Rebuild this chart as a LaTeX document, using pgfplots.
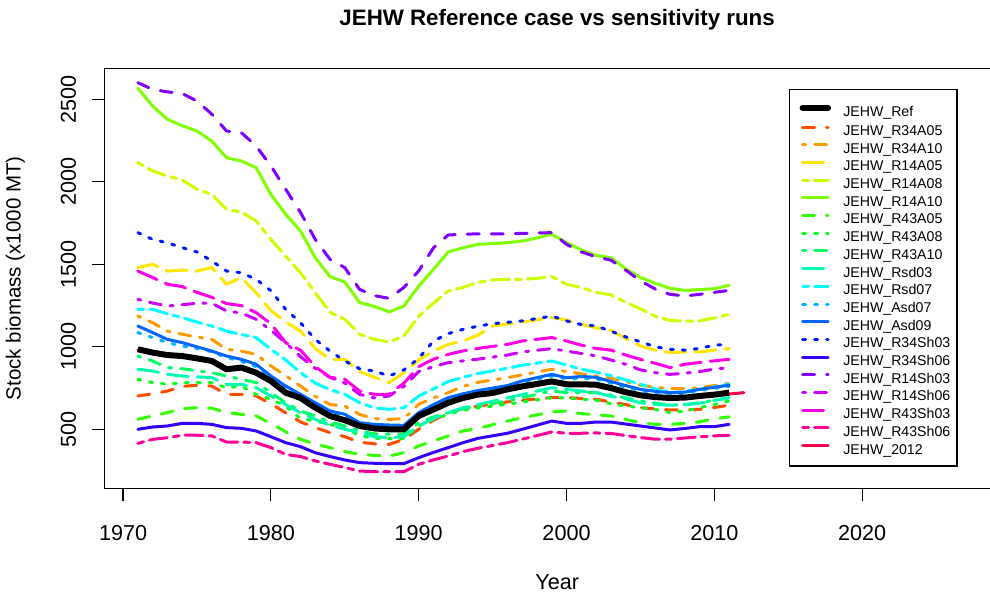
\documentclass[border=0pt]{standalone}
\usepackage{fontspec}
\setmainfont{Liberation Sans}
\usepackage{pgfplots}
\pgfplotsset{compat=1.18}

% rainbow(20) hues, first one replaced by black
\definecolor{c01}{HTML}{FF4D00}
\definecolor{c02}{HTML}{FF9900}
\definecolor{c03}{HTML}{FFE600}
\definecolor{c04}{HTML}{CCFF00}
\definecolor{c05}{HTML}{80FF00}
\definecolor{c06}{HTML}{33FF00}
\definecolor{c07}{HTML}{00FF1A}
\definecolor{c08}{HTML}{00FF66}
\definecolor{c09}{HTML}{00FFB3}
\definecolor{c10}{HTML}{00FFFF}
\definecolor{c11}{HTML}{00B3FF}
\definecolor{c12}{HTML}{0066FF}
\definecolor{c13}{HTML}{001AFF}
\definecolor{c14}{HTML}{3300FF}
\definecolor{c15}{HTML}{8000FF}
\definecolor{c16}{HTML}{CC00FF}
\definecolor{c17}{HTML}{FF00E6}
\definecolor{c18}{HTML}{FF0099}
\definecolor{c19}{HTML}{FF004D}

\tikzset{
  ltsolid/.style={solid},
  ltdashed/.style={dash pattern=on 6bp off 6bp},
  ltdotted/.style={dash pattern=on 1.5bp off 4.5bp},
  ltdotdash/.style={dash pattern=on 1.5bp off 4.5bp on 6bp off 4.5bp},
  ltlong/.style={dash pattern=on 10.5bp off 4.5bp},
  lttwo/.style={dash pattern=on 3bp off 3bp on 9bp off 3bp},
}

\pgfplotsset{
  sRef/.style={black, line width=3bp, solid},
  sA/.style={line width=1.5bp, line cap=round, line join=round},
}

\begin{document}
\begin{tikzpicture}
\useasboundingbox (0,0) rectangle (495bp,298bp);
\begin{axis}[
  at={(52.15bp,53.85bp)}, anchor=south west,
  scale only axis, width=452.85bp, height=210bp,
  xmin=1968.73, xmax=2030, ymin=142.4, ymax=2688,
  xtick={1970,1980,...,2020}, ytick={500,1000,...,2500},
  xtick pos=left, ytick pos=left,
  tick align=outside, major tick length=6.2bp,
  tick style={line width=0.6bp, black},
  axis line style={line width=0.6bp},
  /pgf/number format/1000 sep={},
  /pgf/number format/assume math mode=true,
  ticklabel style={font=\fontsize{10.85}{13}\selectfont},
  xticklabel style={anchor=base, yshift=-20bp},
  yticklabel style={rotate=90, anchor=base, yshift=8bp},
  title={JEHW Reference case vs sensitivity runs},
  title style={font=\bfseries\fontsize{11.2}{13}\selectfont, at={(axis description cs:0.5,1)}, anchor=base, yshift=15.6bp},
  xlabel={Year},
  xlabel style={font=\fontsize{10.85}{13}\selectfont, at={(axis description cs:0.5,0)}, anchor=base, yshift=-50.35bp},
  ylabel={Stock biomass (x1000 MT)},
  ylabel style={font=\fontsize{10.3}{12}\selectfont, at={(axis description cs:-0.0923,0.5)}, anchor=base},
  legend style={at={(axis description cs:0.756,0.9507)}, anchor=north west, draw=black, line width=0.6bp, fill=white,
    inner xsep=3.4bp, inner ysep=5.2bp, row sep=0pt, font=\fontsize{7.1}{8}\selectfont,
    nodes={inner sep=0pt, text height=8.1bp, text depth=0.4bp},
    cells={anchor=base west},
    /tikz/every odd column/.append style={column sep=6.1bp}},
  legend image code/.code={\path (0bp,0bp); \draw[#1, line cap=round] (1.6bp,4.2bp) -- (14.35bp,4.2bp);},
]
\addlegendimage{sRef}\addlegendentry{JEHW\_Ref}
\addlegendimage{sA, c01, ltdashed}\addlegendentry{JEHW\_R34A05}
\addlegendimage{sA, c02, ltdotdash}\addlegendentry{JEHW\_R34A10}
\addlegendimage{sA, c03, ltlong}\addlegendentry{JEHW\_R14A05}
\addlegendimage{sA, c04, lttwo}\addlegendentry{JEHW\_R14A08}
\addlegendimage{sA, c05, ltsolid}\addlegendentry{JEHW\_R14A10}
\addlegendimage{sA, c06, ltdashed}\addlegendentry{JEHW\_R43A05}
\addlegendimage{sA, c07, ltdotted}\addlegendentry{JEHW\_R43A08}
\addlegendimage{sA, c08, ltdotdash}\addlegendentry{JEHW\_R43A10}
\addlegendimage{sA, c09, ltlong}\addlegendentry{JEHW\_Rsd03}
\addlegendimage{sA, c10, lttwo}\addlegendentry{JEHW\_Rsd07}
\addlegendimage{sA, c11, ltdotted}\addlegendentry{JEHW\_Asd07}
\addlegendimage{sA, c12, ltsolid}\addlegendentry{JEHW\_Asd09}
\addlegendimage{sA, c13, ltdotted}\addlegendentry{JEHW\_R34Sh03}
\addlegendimage{sA, c14, ltsolid}\addlegendentry{JEHW\_R34Sh06}
\addlegendimage{sA, c15, ltdashed}\addlegendentry{JEHW\_R14Sh03}
\addlegendimage{sA, c16, ltdotdash}\addlegendentry{JEHW\_R14Sh06}
\addlegendimage{sA, c17, ltlong}\addlegendentry{JEHW\_R43Sh03}
\addlegendimage{sA, c18, lttwo}\addlegendentry{JEHW\_R43Sh06}
\addlegendimage{sA, c19, ltsolid}\addlegendentry{JEHW\_2012}

% R34A05
\addplot[sA, c01, ltdashed, forget plot] coordinates {(1971,702) (1972,715) (1973,732) (1974,760) (1975,767) (1976,762) (1977,712) (1978,712) (1979,702) (1980,655) (1981,600) (1982,545) (1983,510) (1984,480) (1985,455) (1986,422) (1987,412) (1988,409) (1989,439) (1990,500) (1991,555) (1992,600) (1993,625) (1994,640) (1996,666) (1998,685) (1999,692) (2000,692) (2001,687) (2002,682) (2003,665) (2004,650) (2005,631) (2006,624) (2007,617) (2008,617) (2009,621) (2010,632) (2011,646)};
% R34A10
\addplot[sA, c02, ltdotdash, forget plot] coordinates {(1971,1187) (1972,1146) (1973,1095) (1974,1076) (1975,1060) (1976,1045) (1977,985) (1978,974) (1979,954) (1980,884) (1981,825) (1982,762) (1983,700) (1984,650) (1985,641) (1986,590) (1987,565) (1988,560) (1989,565) (1990,652) (1991,690) (1992,722) (1993,760) (1994,785) (1996,813) (1999,864) (2000,850) (2001,836) (2002,823) (2003,810) (2004,790) (2005,767) (2006,755) (2007,746) (2008,746) (2009,752) (2010,765) (2011,779)};
% R14A05
\addplot[sA, c03, ltlong, forget plot] coordinates {(1971,1480) (1972,1500) (1973,1459) (1974,1465) (1975,1459) (1976,1480) (1977,1379) (1978,1419) (1979,1328) (1980,1220) (1981,1150) (1982,1095) (1983,990) (1984,924) (1985,924) (1986,850) (1987,815) (1988,783) (1989,843) (1990,920) (1991,975) (1992,1015) (1993,1035) (1994,1070) (1995,1126) (1997,1150) (1999,1177) (2000,1162) (2001,1135) (2002,1115) (2003,1100) (2004,1050) (2005,1005) (2006,980) (2007,965) (2008,969) (2009,969) (2010,980) (2011,989)};
% R14A08
\addplot[sA, c04, lttwo, forget plot] coordinates {(1971,2116) (1972,2066) (1973,2035) (1974,2011) (1975,1955) (1976,1924) (1977,1833) (1978,1817) (1979,1763) (1980,1651) (1981,1550) (1982,1449) (1983,1328) (1984,1209) (1985,1167) (1986,1076) (1987,1045) (1988,1029) (1989,1065) (1990,1186) (1991,1265) (1992,1338) (1993,1360) (1994,1390) (1995,1405) (1996,1409) (1997,1409) (1998,1415) (1999,1425) (2000,1379) (2001,1359) (2002,1330) (2003,1315) (2004,1270) (2005,1230) (2006,1185) (2007,1160) (2008,1155) (2009,1157) (2010,1175) (2011,1197)};
% R14A10
\addplot[sA, c05, ltsolid, forget plot] coordinates {(1971,2567) (1972,2459) (1973,2379) (1974,2340) (1975,2308) (1976,2247) (1977,2146) (1978,2126) (1979,2086) (1980,1924) (1981,1803) (1982,1702) (1983,1540) (1984,1425) (1985,1393) (1986,1268) (1987,1245) (1988,1212) (1989,1247) (1990,1368) (1991,1470) (1992,1575) (1993,1600) (1994,1621) (1996,1631) (1997,1641) (1998,1660) (1999,1682) (2000,1631) (2001,1587) (2002,1554) (2003,1540) (2004,1473) (2005,1420) (2006,1385) (2007,1355) (2008,1342) (2009,1347) (2010,1352) (2011,1373)};
% R43A05
\addplot[sA, c06, ltdashed, forget plot] coordinates {(1971,561) (1972,581) (1973,601) (1974,625) (1975,631) (1976,628) (1977,601) (1978,591) (1979,581) (1980,535) (1981,485) (1982,439) (1983,410) (1984,389) (1985,365) (1986,348) (1987,342) (1988,338) (1989,358) (1990,399) (1991,430) (1992,460) (1993,490) (1994,505) (1996,550) (1997,570) (1999,605) (2000,611) (2001,595) (2002,588) (2003,581) (2004,560) (2005,540) (2006,530) (2007,530) (2008,536) (2009,545) (2010,565) (2011,575)};
% R43A08
\addplot[sA, c07, ltdotted, forget plot] coordinates {(1971,803) (1972,783) (1973,773) (1974,783) (1975,783) (1976,783) (1977,752) (1978,762) (1979,712) (1980,682) (1981,640) (1982,565) (1983,550) (1984,530) (1985,505) (1986,462) (1987,445) (1988,443) (1989,443) (1990,520) (1991,560) (1992,591) (1993,615) (1994,630) (1996,652) (1999,692) (2000,690) (2001,682) (2002,676) (2003,655) (2004,641) (2005,631) (2006,620) (2007,601) (2008,610) (2009,631) (2010,650) (2011,672)};
% R43A10
\addplot[sA, c08, ltdotdash, forget plot] coordinates {(1971,944) (1972,914) (1973,874) (1974,867) (1975,855) (1976,843) (1977,823) (1978,803) (1979,783) (1980,722) (1981,661) (1982,611) (1983,581) (1984,545) (1985,520) (1986,490) (1987,472) (1988,470) (1989,470) (1990,540) (1991,575) (1992,601) (1993,625) (1994,640) (1996,672) (1999,732) (2000,722) (2001,722) (2002,722) (2003,708) (2004,690) (2005,672) (2006,658) (2007,646) (2008,650) (2009,661) (2010,675) (2011,692)};
% Rsd03
\addplot[sA, c09, ltlong, forget plot] coordinates {(1971,864) (1972,853) (1973,833) (1974,823) (1975,818) (1976,813) (1977,773) (1978,773) (1979,752) (1980,702) (1981,650) (1982,600) (1983,560) (1984,525) (1985,500) (1986,480) (1987,455) (1988,449) (1989,455) (1990,520) (1991,565) (1992,601) (1993,630) (1994,650) (1996,690) (1999,752) (2000,742) (2001,732) (2002,722) (2003,700) (2004,685) (2005,660) (2006,650) (2007,646) (2008,650) (2009,657) (2010,675) (2011,692)};
% Rsd07
\addplot[sA, c10, lttwo, forget plot] coordinates {(1971,1227) (1972,1227) (1973,1200) (1974,1177) (1975,1150) (1976,1126) (1977,1095) (1978,1075) (1979,1056) (1980,985) (1981,920) (1982,843) (1983,780) (1984,740) (1985,712) (1986,661) (1987,630) (1988,621) (1989,631) (1990,702) (1991,745) (1992,790) (1993,815) (1994,838) (1996,870) (1997,888) (1999,914) (2000,890) (2001,864) (2002,847) (2003,825) (2004,800) (2005,773) (2006,745) (2007,722) (2008,730) (2009,742) (2010,757) (2011,773)};
% Asd07
\addplot[sA, c11, ltdotted, forget plot] coordinates {(1971,1086) (1972,1056) (1973,1025) (1974,1005) (1975,990) (1976,970) (1977,935) (1978,912) (1979,880) (1980,812) (1981,750) (1982,700) (1983,650) (1984,600) (1985,580) (1986,530) (1987,520) (1988,516) (1989,515) (1990,592) (1991,640) (1992,682) (1993,705) (1994,725) (1996,755) (1997,783) (1999,823) (2000,805) (2001,810) (2002,805) (2003,780) (2004,755) (2005,733) (2006,722) (2007,715) (2008,718) (2009,735) (2010,748) (2011,760)};
% Asd09
\addplot[sA, c12, ltsolid, forget plot] coordinates {(1971,1126) (1972,1086) (1973,1045) (1974,1025) (1975,1000) (1976,974) (1977,944) (1978,924) (1979,894) (1980,823) (1981,762) (1982,712) (1983,661) (1984,611) (1985,591) (1986,540) (1987,530) (1988,526) (1989,524) (1990,601) (1991,650) (1992,692) (1993,715) (1994,735) (1996,765) (1997,793) (1999,833) (2000,813) (2001,820) (2002,815) (2003,790) (2004,765) (2005,742) (2006,730) (2007,722) (2008,725) (2009,742) (2010,755) (2011,767)};
% R34Sh03
\addplot[sA, c13, ltdotted, forget plot] coordinates {(1971,1692) (1972,1651) (1973,1630) (1974,1601) (1975,1575) (1976,1520) (1977,1459) (1978,1449) (1979,1409) (1980,1340) (1981,1227) (1982,1146) (1983,1045) (1984,974) (1985,914) (1986,867) (1987,853) (1988,823) (1989,860) (1990,930) (1991,1035) (1992,1080) (1993,1106) (1994,1125) (1995,1140) (1997,1157) (1999,1186) (2000,1157) (2001,1135) (2002,1126) (2003,1095) (2004,1060) (2005,1030) (2006,1000) (2007,985) (2008,980) (2009,990) (2010,1010) (2011,1015)};
% R34Sh06
\addplot[sA, c14, ltsolid, forget plot] coordinates {(1971,500) (1972,514) (1973,520) (1974,536) (1975,536) (1976,530) (1977,510) (1978,506) (1979,490) (1980,455) (1981,419) (1982,395) (1983,358) (1984,335) (1985,314) (1986,298) (1987,294) (1988,292) (1989,292) (1990,328) (1991,360) (1992,389) (1993,419) (1994,445) (1996,476) (1997,500) (1999,550) (2000,536) (2001,536) (2002,544) (2003,544) (2004,532) (2005,520) (2006,508) (2007,496) (2008,505) (2009,516) (2010,516) (2011,530)};
% R14Sh03
\addplot[sA, c15, ltdashed, forget plot] coordinates {(1971,2601) (1972,2560) (1973,2545) (1974,2535) (1975,2490) (1976,2410) (1977,2308) (1978,2298) (1979,2217) (1980,2096) (1981,1955) (1982,1815) (1983,1651) (1984,1530) (1985,1480) (1986,1348) (1987,1310) (1988,1294) (1989,1360) (1990,1460) (1991,1600) (1992,1678) (1994,1685) (1996,1685) (1999,1692) (2000,1621) (2001,1575) (2002,1545) (2003,1525) (2004,1465) (2005,1400) (2006,1350) (2007,1318) (2008,1308) (2009,1318) (2010,1330) (2011,1342)};
% R14Sh06
\addplot[sA, c16, ltdotdash, forget plot] coordinates {(1971,1288) (1972,1265) (1973,1247) (1974,1255) (1975,1264) (1976,1264) (1977,1217) (1978,1205) (1979,1167) (1980,1100) (1981,1025) (1982,940) (1983,870) (1984,815) (1985,780) (1986,712) (1987,690) (1988,702) (1989,760) (1990,850) (1991,880) (1992,904) (1993,915) (1994,925) (1996,950) (1997,969) (1999,989) (2000,974) (2001,960) (2002,945) (2003,920) (2004,894) (2005,860) (2006,843) (2007,833) (2008,840) (2009,850) (2010,865) (2011,874)};
% R43Sh03
\addplot[sA, c17, ltlong, forget plot] coordinates {(1971,1459) (1972,1420) (1973,1379) (1974,1365) (1975,1330) (1976,1300) (1977,1262) (1978,1250) (1979,1207) (1980,1140) (1981,1025) (1982,980) (1983,880) (1984,815) (1985,803) (1986,732) (1987,712) (1988,712) (1989,780) (1990,880) (1991,925) (1992,954) (1993,975) (1994,990) (1996,1015) (1997,1035) (1999,1056) (2000,1035) (2001,1010) (2002,990) (2003,980) (2004,950) (2005,924) (2006,900) (2007,874) (2008,894) (2009,905) (2010,915) (2011,924)};
% R43Sh06
\addplot[sA, c18, lttwo, forget plot] coordinates {(1971,415) (1972,439) (1973,449) (1974,464) (1975,464) (1976,460) (1977,423) (1978,423) (1979,419) (1980,389) (1981,348) (1982,335) (1983,308) (1984,288) (1985,268) (1986,247) (1987,243) (1988,243) (1989,243) (1990,288) (1991,315) (1992,338) (1993,365) (1994,385) (1996,419) (1997,440) (1999,484) (2000,476) (2001,476) (2002,478) (2003,475) (2004,462) (2005,450) (2006,440) (2007,440) (2008,447) (2009,455) (2010,460) (2011,464)};
% JEHW_2012
\addplot[sA, c19, ltsolid, forget plot] coordinates {(1971,980) (1972,960) (1973,945) (1974,939) (1975,925) (1976,909) (1977,859) (1978,869) (1979,838) (1980,788) (1981,717) (1982,685) (1983,626) (1984,576) (1985,550) (1986,515) (1987,500) (1988,495) (1989,495) (1990,576) (1991,615) (1992,656) (1993,685) (1994,705) (1995,715) (1996,737) (1997,755) (1998,770) (1999,785) (2000,768) (2001,768) (2002,765) (2003,745) (2004,720) (2005,701) (2006,690) (2007,685) (2008,687) (2009,697) (2010,705) (2011,714) (2012,722)};
% Ref, drawn last
\addplot[sRef, forget plot] coordinates {(1971,985) (1972,965) (1973,950) (1974,944) (1975,930) (1976,914) (1977,864) (1978,874) (1979,843) (1980,793) (1981,722) (1982,690) (1983,631) (1984,581) (1985,555) (1986,520) (1987,505) (1988,500) (1989,500) (1990,581) (1991,620) (1992,661) (1993,690) (1994,710) (1995,720) (1996,742) (1997,760) (1998,775) (1999,790) (2000,773) (2001,773) (2002,770) (2003,750) (2004,725) (2005,706) (2006,695) (2007,690) (2008,692) (2009,702) (2010,710) (2011,722)};
\end{axis}
\end{tikzpicture}
\end{document}
